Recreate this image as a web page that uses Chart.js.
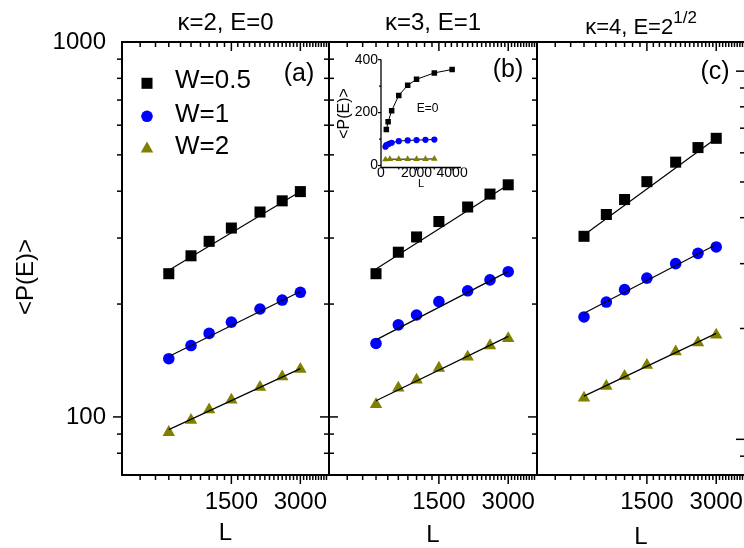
<!DOCTYPE html>
<html>
<head>
<meta charset="utf-8">
<script src="https://cdn.jsdelivr.net/npm/chart.js@4.4.1/dist/chart.umd.min.js"></script>
<style>
  html, body { margin: 0; padding: 0; background: #fff; }
  #wrap { position: relative; width: 744px; height: 548px; overflow: hidden;
          font-family: "Liberation Sans", Arial, Helvetica, sans-serif; color: #000; }
  #wrap canvas { position: absolute; left: 0; top: 0; }
  .lbl { position: absolute; transform: translate(-50%, -50%); line-height: 1; white-space: nowrap; }
</style>
</head>
<body>
<div id="wrap">
  <canvas id="panelA" width="760" height="548"></canvas>
  <canvas id="panelB" width="760" height="548"></canvas>
  <canvas id="panelC" width="760" height="548"></canvas>
  <canvas id="inset" width="140" height="145" style="left:330px;top:48px"></canvas>

  <div class="lbl" style="left:225.5px;top:21.7px;font-size:24px">κ=2, E=0</div>
  <div class="lbl" style="left:433px;top:21.7px;font-size:24px">κ=3, E=1</div>
  <div class="lbl" style="left:641px;top:27.4px;font-size:22px">κ=4, E=2<span style="position:relative;top:-11px;font-size:17px">1/2</span></div>

  <div class="lbl" style="left:299px;top:71.8px;font-size:25px">(a)</div>
  <div class="lbl" style="left:508px;top:67.5px;font-size:25px">(b)</div>
  <div class="lbl" style="left:715px;top:70.3px;font-size:25px">(c)</div>

  <div class="lbl" style="left:24.7px;top:276.5px;font-size:24px;transform:translate(-50%,-50%) rotate(-90deg)">&lt;P(E)&gt;</div>
  <div class="lbl" style="left:427.5px;top:108.3px;font-size:12px">E=0</div>
</div>

<script>
// system sizes and the three disorder strengths
const sizeL = [800, 1000, 1200, 1500, 2000, 2500, 3000];
const fitEnds = [800, 3000];
const seriesNames = ['W=0.5', 'W=1', 'W=2'];

// panel (a) kappa=2, E=0
const panelA05 = [241, 269, 294, 319, 352, 377, 399];
const panelA1 = [143, 155, 167, 179, 194, 205, 215];
const panelA2 = [91, 98, 104.5, 111, 120, 128, 134];
const panelAFit05 = [246, 399];
const panelAFit1 = [145, 216];
const panelAFit2 = [92.5, 134.5];

// panel (b) kappa=3, E=1
const panelB05 = [241, 275, 302, 332, 363, 393, 416];
const panelB1 = [157, 176, 187, 203, 217, 232, 244];
const panelB2 = [108, 119.5, 125.5, 135, 144.5, 155, 162];
const panelBFit05 = [248, 416];
const panelBFit1 = [160.5, 244.5];
const panelBFit2 = [110.5, 164];

// panel (c) kappa=4, E=sqrt(2), own y scale
const panelC05 = [356, 408, 448, 501, 566, 620, 657];
const panelC1 = [215, 236, 255, 274, 300, 320, 333];
const panelC2 = [129.5, 139.5, 148.5, 159, 173, 183, 192];
const panelCFit05 = [359, 657];
const panelCFit1 = [220, 338];
const panelCFit2 = [131, 194];

// inset, linear axes
const insetL05 = [300, 400, 600, 1000, 1500, 2000, 3000, 4000];
const insetP05 = [136, 165, 207, 265, 303, 326, 350, 363];
const insetL1 = [250, 300, 450, 600, 1000, 1500, 2000, 2500, 3000];
const insetP1 = [71, 77, 82, 86, 92, 95, 96, 97, 98];
const insetL2 = [250, 500, 1000, 1500, 2000, 2500, 3000];
const insetP2 = [23, 24, 24, 24, 24, 24.5, 25];

// ticks
const xTickLabels = [1500, 3000];
const yTickLabels = [100, 1000];
const yTicksLeft = [80, 90, 100, 200, 300, 400, 500, 600, 700, 800, 900, 1000];
const yTicksRight = [90, 100, 200, 300, 400, 500, 600, 700, 800, 900, 1000];
const insetXTicks = [0, 1000, 2000, 3000, 4000];
const insetXTickLabels = [0, 2000, 4000];
const insetYTicks = [0, 100, 200, 300, 400];
const insetYTickLabels = [0, 200, 400];

const xTicks = [];
for (let v = 500; v <= 4000; v += 100) xTicks.push(v);

const family = '"Liberation Sans", Arial, Helvetica, sans-serif';
const colors = ['#000000', '#0000ff', '#808000'];
const styles = ['rect', 'circle', 'triangle'];

function drawMarker(ctx, style, x, y, r) {
  ctx.beginPath();
  if (style === 'rect') {
    const s = r * Math.SQRT1_2;
    ctx.rect(x - s, y - s, 2 * s, 2 * s);
  } else if (style === 'triangle') {
    const h = r * Math.sin(2 * Math.PI / 3);
    ctx.moveTo(x, y - r);
    ctx.lineTo(x + h, y + r / 2);
    ctx.lineTo(x - h, y + r / 2);
    ctx.closePath();
  } else {
    ctx.arc(x, y, r, 0, Math.PI * 2);
  }
  ctx.fill();
}

// box + tick marks on any side, placed with the chart's scales
const frame = {
  id: 'frame',
  afterDatasetsDraw(chart, args, o) {
    const { ctx, chartArea: a } = chart;
    ctx.save();
    ctx.strokeStyle = '#000';
    ctx.lineWidth = o.tickWidth;
    for (const s of o.sides) {
      const sc = chart.scales[s.scale];
      for (const v of s.values) {
        if (v <= sc.min || v >= sc.max) continue;
        const len = s.majors.includes(v) ? o.major : o.minor;
        const p = sc.getPixelForValue(v);
        ctx.beginPath();
        if (s.side === 'top') { ctx.moveTo(p, a.top); ctx.lineTo(p, a.top + len); }
        if (s.side === 'bottom') { ctx.moveTo(p, a.bottom); ctx.lineTo(p, a.bottom + len); }
        if (s.side === 'leftOut') { ctx.moveTo(a.left, p); ctx.lineTo(a.left - len, p); }
        if (s.side === 'leftIn') { ctx.moveTo(a.left, p); ctx.lineTo(a.left + len, p); }
        if (s.side === 'rightIn') { ctx.moveTo(a.right, p); ctx.lineTo(a.right - len, p); }
        ctx.stroke();
      }
    }
    ctx.lineWidth = o.lineWidth;
    ctx.beginPath();
    if (o.box) {
      ctx.rect(a.left, a.top, a.right - a.left, a.bottom - a.top);
    } else {
      ctx.moveTo(a.left, a.top);
      ctx.lineTo(a.left, a.bottom);
      ctx.lineTo(a.right, a.bottom);
    }
    ctx.stroke();
    ctx.restore();
  }
};

// symbol key of panel (a)
const keyBox = {
  id: 'keyBox',
  afterDatasetsDraw(chart, args, o) {
    const ctx = chart.ctx;
    ctx.save();
    chart.data.datasets.filter(d => d.label).forEach((d, i) => {
      ctx.fillStyle = d.pointBackgroundColor;
      drawMarker(ctx, d.pointStyle, o.x, o.markerY[i], d.pointRadius);
      ctx.fillStyle = '#000';
      ctx.font = '26px ' + family;
      ctx.textAlign = 'left';
      ctx.textBaseline = 'middle';
      ctx.fillText(d.label, o.textX, o.textY[i]);
    });
    ctx.restore();
  }
};

const radii = [7.8, 5.8, 7.2];

function panelDatasets(vals, fits) {
  const sets = [];
  fits.forEach(f => sets.push({
    type: 'line',
    data: fitEnds.map((x, j) => ({ x, y: f[j] })),
    borderColor: '#000', borderWidth: 1.2, pointRadius: 0, order: 0
  }));
  vals.forEach((v, i) => sets.push({
    label: seriesNames[i],
    data: sizeL.map((x, j) => ({ x, y: v[j] })),
    pointStyle: styles[i], pointRadius: radii[i],
    pointBackgroundColor: colors[i], pointBorderColor: colors[i], pointBorderWidth: 0,
    order: 1
  }));
  return sets;
}

function makePanel(id, cfg) {
  const yScale = {
    type: 'logarithmic', min: cfg.yMin, max: cfg.yMax, bounds: 'data',
    display: cfg.showY,
    afterBuildTicks: s => { s.ticks = yTicksLeft.map(v => ({ value: v })); },
    grid: { display: false, drawTicks: false },
    border: { display: false },
    ticks: {
      autoSkip: false, padding: 16, color: '#000', font: { size: 24, family },
      callback: v => yTickLabels.includes(v) ? String(v) : ''
    }
  };
  if (cfg.showY) yScale.afterFit = s => { s.width = 122; };

  return new Chart(document.getElementById(id), {
    type: 'scatter',
    data: { datasets: panelDatasets(cfg.vals, cfg.fits) },
    options: {
      responsive: false, animation: false, events: [],
      layout: { padding: cfg.pad },
      plugins: {
        legend: { display: false }, tooltip: { enabled: false },
        frame: {
          box: true, lineWidth: 2, tickWidth: 1.5, major: 9, minor: 5,
          sides: [
            { side: 'top', scale: 'x', values: xTicks, majors: xTickLabels },
            { side: 'bottom', scale: 'x', values: xTicks, majors: xTickLabels },
            ...cfg.ySides.map(side => ({ side, scale: 'y', values: cfg.yTicks, majors: yTickLabels }))
          ]
        },
        keyBox: { x: 147, markerY: [83.3, 116.3, 148.8], textX: 175, textY: [80.8, 115.3, 147.2] }
      },
      scales: {
        x: {
          type: 'logarithmic', min: 500, max: 4000, bounds: 'data',
          afterBuildTicks: s => { s.ticks = xTicks.map(v => ({ value: v })); },
          afterFit: s => { s.height = 73; },
          grid: { display: false, drawTicks: false },
          border: { display: false },
          ticks: {
            autoSkip: false, maxRotation: 0, minRotation: 0, padding: 12.6,
            color: '#000', font: { size: 24, family },
            callback: v => xTickLabels.includes(v) ? String(v) : ''
          },
          title: {
            display: true, text: 'L', color: '#000', font: { size: 24, family },
            padding: { top: 0, bottom: cfg.titlePad }
          }
        },
        y: yScale
      }
    },
    plugins: cfg.key ? [frame, keyBox] : [frame]
  });
}

makePanel('panelA', {
  vals: [panelA05, panelA1, panelA2], fits: [panelAFit05, panelAFit1, panelAFit2],
  yMin: 70, yMax: 1000, showY: true, yTicks: yTicksLeft, ySides: ['leftOut', 'rightIn'],
  pad: { left: 0, right: 431, top: 42, bottom: 0 }, titlePad: 0, key: true
});

makePanel('panelB', {
  vals: [panelB05, panelB1, panelB2], fits: [panelBFit05, panelBFit1, panelBFit2],
  yMin: 70, yMax: 1000, showY: false, yTicks: yTicksLeft, ySides: ['leftIn', 'rightIn'],
  pad: { left: 329, right: 223, top: 42, bottom: 0 }, titlePad: -1.4, key: false
});

makePanel('panelC', {
  vals: [panelC05, panelC1, panelC2], fits: [panelCFit05, panelCFit1, panelCFit2],
  yMin: 80, yMax: 1200, showY: false, yTicks: yTicksRight, ySides: ['rightIn'],
  pad: { left: 537, right: 15, top: 42, bottom: 0 }, titlePad: -3.9, key: false
});

// inset of panel (b)
const insetSeries = [[insetL05, insetP05], [insetL1, insetP1], [insetL2, insetP2]];
const insetRadii = [3.9, 3.1, 3.8];

new Chart(document.getElementById('inset'), {
  type: 'scatter',
  data: {
    datasets: insetSeries.map(([xs, ys], i) => ({
      type: 'line',
      data: xs.map((x, j) => ({ x, y: ys[j] })),
      borderColor: '#000', borderWidth: 1,
      pointStyle: styles[i], pointRadius: insetRadii[i],
      pointBackgroundColor: colors[i], pointBorderWidth: 0
    }))
  },
  options: {
    responsive: false, animation: false, events: [],
    layout: { padding: { left: 0, right: 9, top: 10, bottom: 0 } },
    plugins: {
      legend: { display: false }, tooltip: { enabled: false },
      frame: {
        box: false, lineWidth: 1.3, tickWidth: 1.2, major: 3, minor: 2,
        sides: [
          { side: 'bottom', scale: 'x', values: insetXTicks, majors: insetXTickLabels },
          { side: 'leftOut', scale: 'y', values: insetYTicks, majors: insetYTickLabels }
        ]
      }
    },
    scales: {
      x: {
        type: 'linear', min: 0, max: 4500,
        afterBuildTicks: s => { s.ticks = insetXTicks.map(v => ({ value: v })); },
        afterFit: s => { s.height = 25.5; },
        grid: { display: false, drawTicks: false },
        border: { display: false },
        ticks: {
          autoSkip: false, maxRotation: 0, minRotation: 0, padding: -2.4,
          color: '#000', font: { size: 14, family },
          callback: v => insetXTickLabels.includes(v) ? String(v) : ''
        },
        title: {
          display: true, text: 'L', color: '#000', font: { size: 11, family },
          padding: { top: 0, bottom: 2.8 }
        }
      },
      y: {
        type: 'linear', min: -7.5, max: 401,
        afterBuildTicks: s => { s.ticks = insetYTicks.map(v => ({ value: v })); },
        afterFit: s => { s.width = 51; },
        grid: { display: false, drawTicks: false },
        border: { display: false },
        ticks: {
          autoSkip: false, padding: 3, color: '#000', font: { size: 14, family },
          callback: v => insetYTickLabels.includes(v) ? String(v) : ''
        },
        title: {
          display: true, text: '<P(E)>', color: '#000', font: { size: 16, family },
          padding: { top: 4.7, bottom: 0 }
        }
      }
    }
  },
  plugins: [frame]
});
</script>
</body>
</html>
